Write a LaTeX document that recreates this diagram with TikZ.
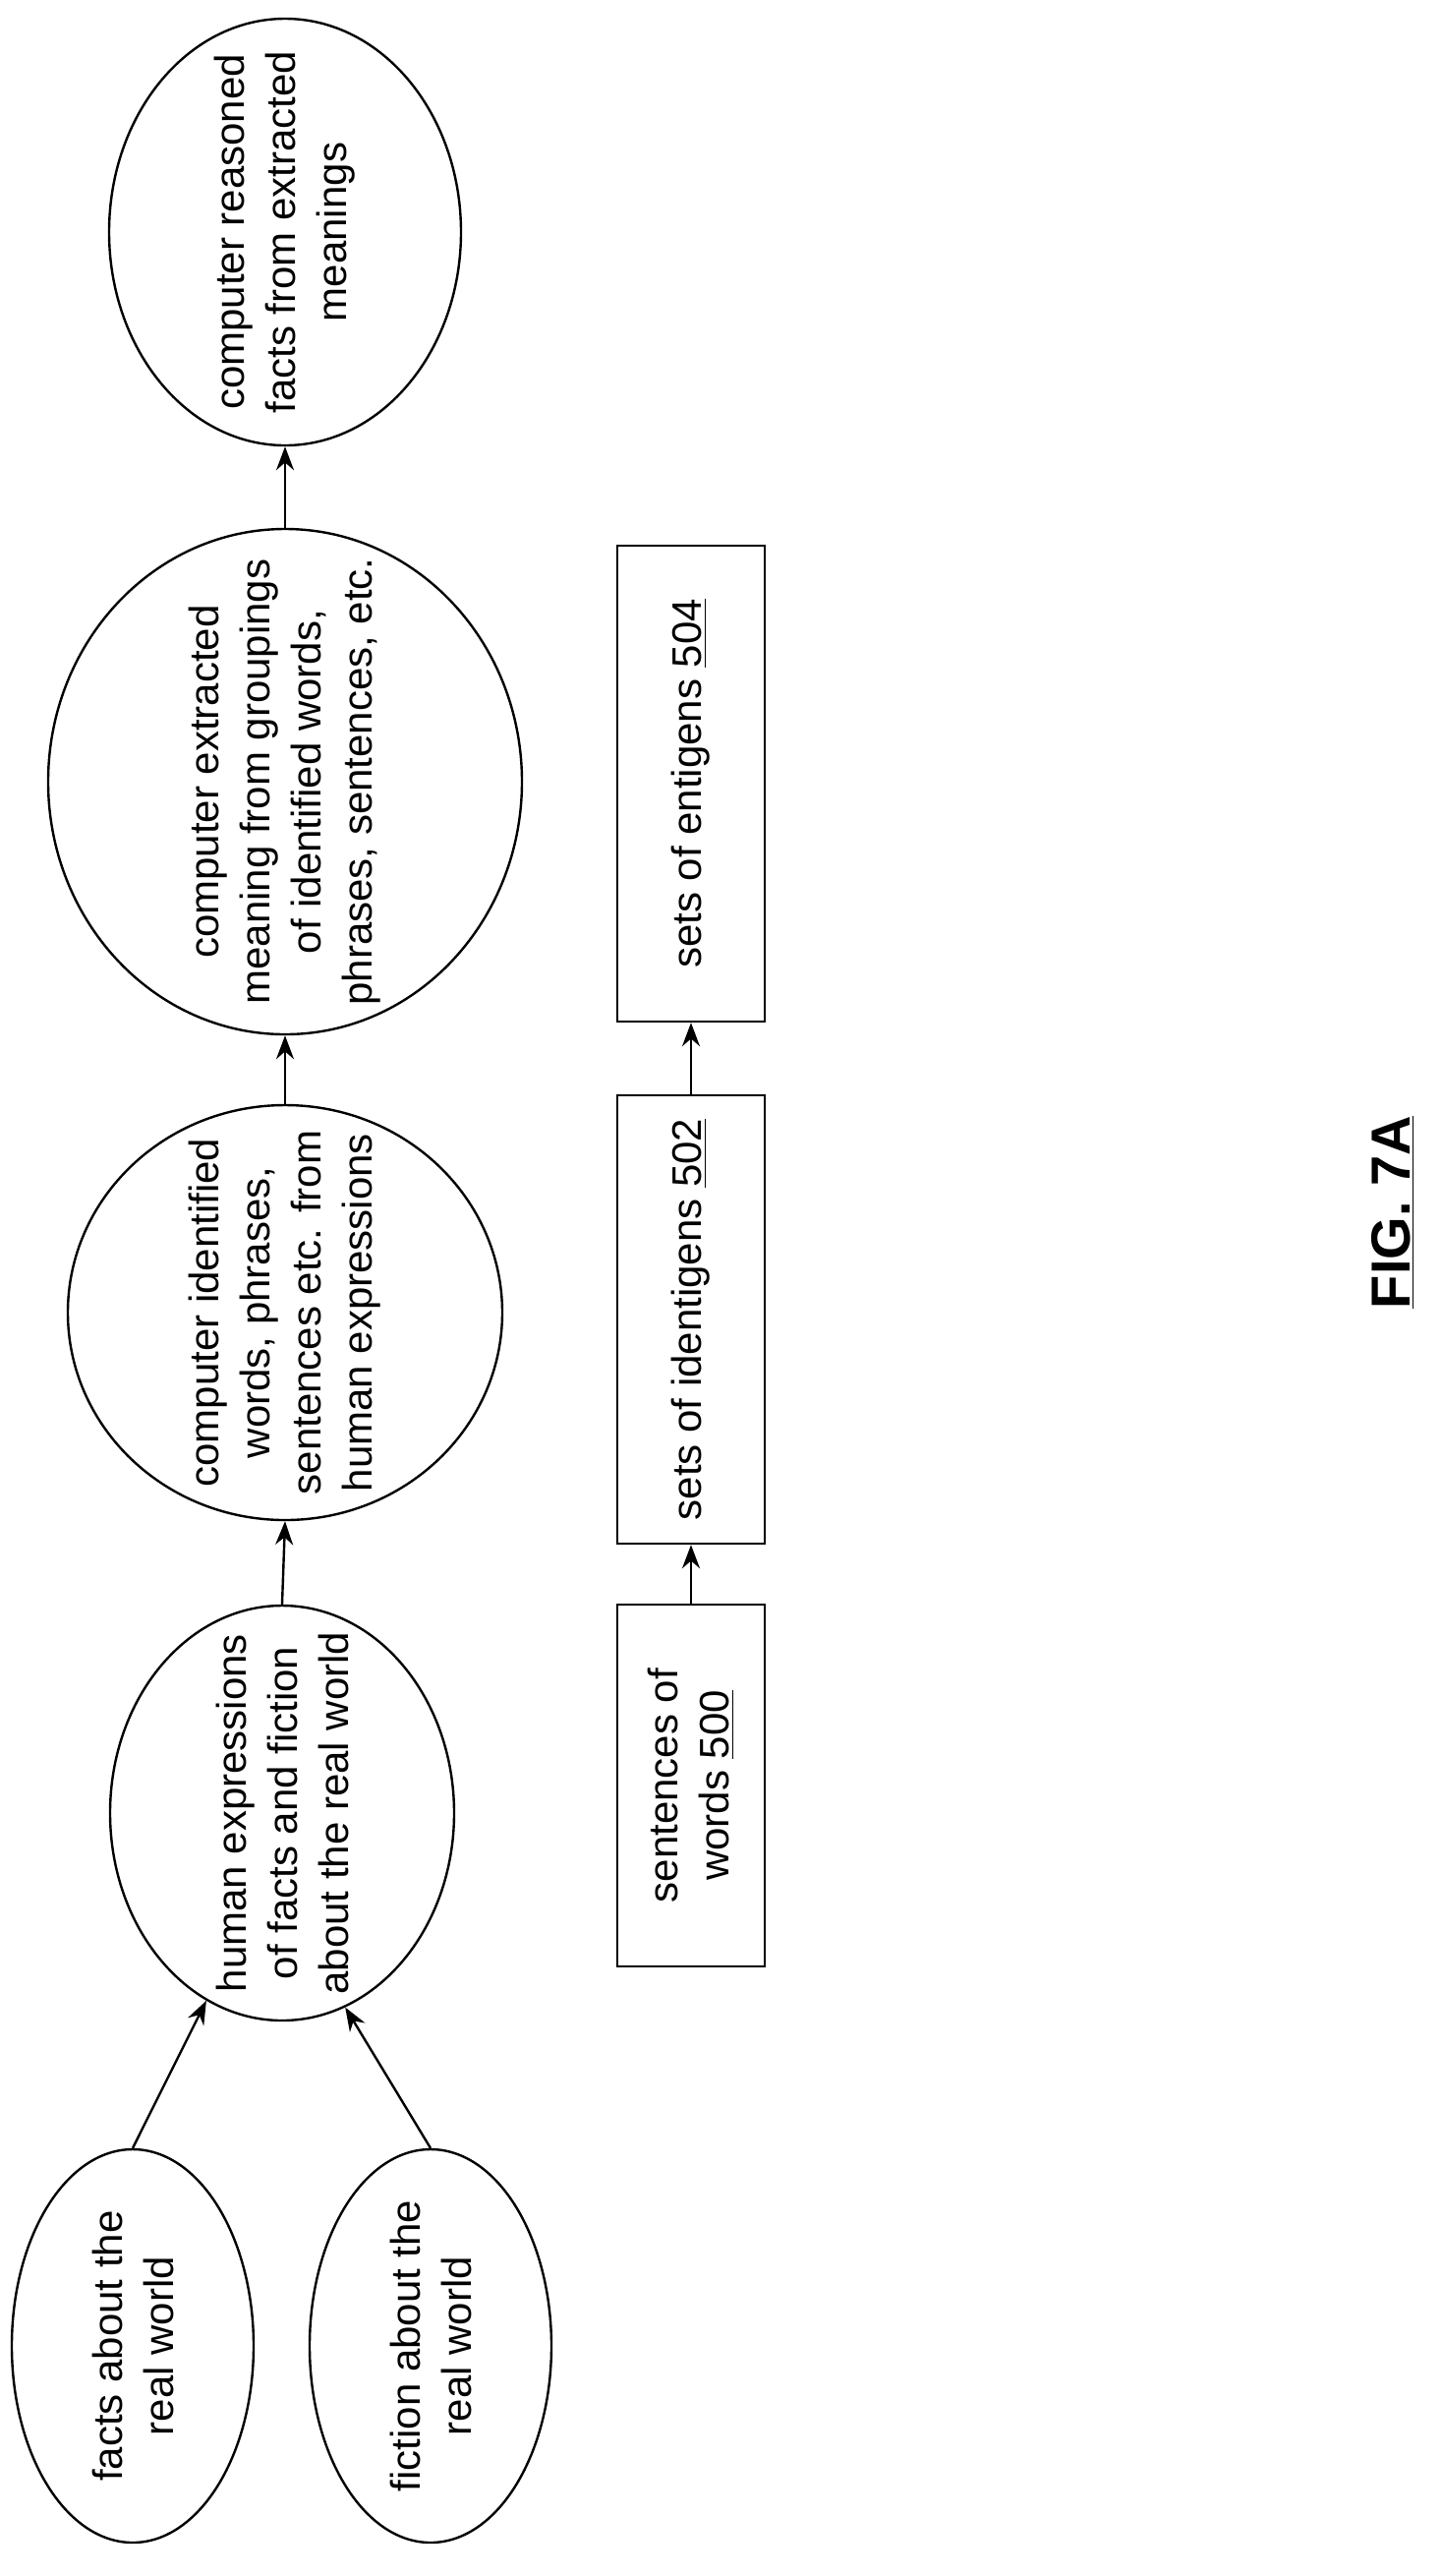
\documentclass[tikz,border=0pt]{standalone}
\usepackage{fontspec}
\setmainfont{Liberation Sans}
\usetikzlibrary{shapes.geometric,arrows.meta}
\tikzset{
  bubble/.style={draw, ellipse, rotate=90, line width=1.2pt, inner sep=-60pt, align=center, font=\fontsize{21}{26}\selectfont},
  setbox/.style={draw, rectangle, rotate=90, line width=1.2pt, inner sep=0pt, align=center, minimum height=75pt, font=\fontsize{21}{26}\selectfont},
  flow/.style={-{Stealth[length=12pt,width=9pt]}, line width=1.2pt}
}
\begin{document}
\begin{tikzpicture}[x=0.5pt,y=-0.5pt]
\useasboundingbox (0,0) rectangle (1467,2620);
% upper chain
\node[bubble, minimum width=217pt, minimum height=179pt] (reasoned) at (290,236) {computer reasoned\\facts from extracted\\meanings};
\node[bubble, minimum width=257pt, minimum height=241pt] (extracted) at (290,795) {computer extracted\\meaning from groupings\\of identified words,\\phrases, sentences, etc.};
\node[bubble, minimum width=211pt, minimum height=221pt] (identified) at (290,1335) {computer identified\\words, phrases,\\sentences etc. from\\human expressions};
\node[bubble, minimum width=211pt, minimum height=175pt] (human) at (287,1844) {human expressions\\of facts and fiction\\about the real world};
\node[bubble, minimum width=200pt, minimum height=123pt] (facts) at (135,2386) {facts about the\\real world};
\node[bubble, minimum width=200pt, minimum height=123pt] (fiction) at (438,2386) {fiction about the\\real world};
% lower chain
\node[setbox, minimum width=242pt] (entigens) at (703,797) {sets of entigens \underline{504}};
\node[setbox, minimum width=228pt] (identigens) at (703,1342) {sets of identigens \underline{502}};
\node[setbox, minimum width=184pt] (sentences) at (703,1816) {sentences of\\words \underline{500}};
\node[rotate=90, font=\fontsize{28}{34}\selectfont\bfseries] (fig) at (1417,1233) {\underline{FIG. 7A}};
% connectors
\draw[flow] (facts.east) -- (human.158);
\draw[flow] (fiction.east) -- (human.-162);
\draw[flow] (human.east) -- (identified.west);
\draw[flow] (identified.east) -- (extracted.west);
\draw[flow] (extracted.east) -- (reasoned.west);
\draw[flow] (sentences.east) -- (identigens.west);
\draw[flow] (identigens.east) -- (entigens.west);
\end{tikzpicture}
\end{document}
